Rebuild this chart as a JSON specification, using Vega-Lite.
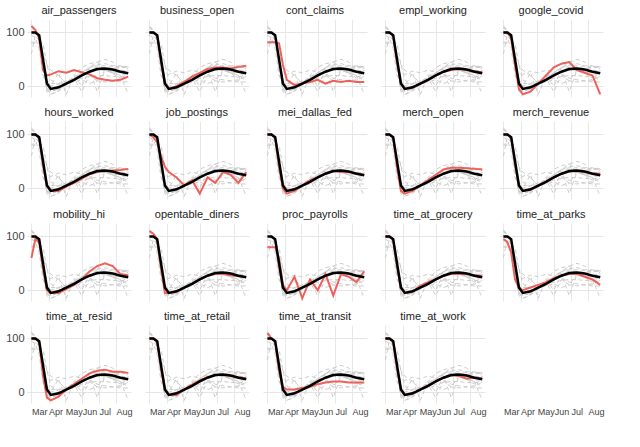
{
"$schema":"https://vega.github.io/schema/vega-lite/v6.json",
"datasets":{"wide":[
{"d":"2020-03-01","avg":100,"air_passengers":112,"business_open":100,"cont_claims":82,"empl_working":100,"google_covid":100,"hours_worked":100,"job_postings":100,"mei_dallas_fed":100,"merch_open":100,"merch_revenue":100,"mobility_hi":60,"opentable_diners":110,"proc_payrolls":80,"time_at_grocery":100,"time_at_parks":95,"time_at_resid":100,"time_at_retail":100,"time_at_transit":110,"time_at_work":100},
{"d":"2020-03-08","avg":100,"air_passengers":105,"business_open":100,"cont_claims":82,"empl_working":100,"google_covid":100,"hours_worked":100,"job_postings":95,"mei_dallas_fed":100,"merch_open":100,"merch_revenue":100,"mobility_hi":95,"opentable_diners":105,"proc_payrolls":80,"time_at_grocery":100,"time_at_parks":90,"time_at_resid":100,"time_at_retail":100,"time_at_transit":100,"time_at_work":100},
{"d":"2020-03-15","avg":95,"air_passengers":90,"business_open":95,"cont_claims":82,"empl_working":95,"google_covid":90,"hours_worked":95,"job_postings":85,"mei_dallas_fed":95,"merch_open":95,"merch_revenue":95,"mobility_hi":90,"opentable_diners":95,"proc_payrolls":80,"time_at_grocery":95,"time_at_parks":70,"time_at_resid":95,"time_at_retail":95,"time_at_transit":95,"time_at_work":95},
{"d":"2020-03-22","avg":50,"air_passengers":30,"business_open":45,"cont_claims":80,"empl_working":45,"google_covid":40,"hours_worked":45,"job_postings":60,"mei_dallas_fed":40,"merch_open":40,"merch_revenue":45,"mobility_hi":40,"opentable_diners":40,"proc_payrolls":60,"time_at_grocery":45,"time_at_parks":20,"time_at_resid":30,"time_at_retail":45,"time_at_transit":40,"time_at_work":45},
{"d":"2020-03-29","avg":5,"air_passengers":20,"business_open":5,"cont_claims":40,"empl_working":5,"google_covid":-5,"hours_worked":5,"job_postings":40,"mei_dallas_fed":0,"merch_open":-5,"merch_revenue":5,"mobility_hi":0,"opentable_diners":-5,"proc_payrolls":10,"time_at_grocery":5,"time_at_parks":5,"time_at_resid":-10,"time_at_retail":5,"time_at_transit":10,"time_at_work":5},
{"d":"2020-04-05","avg":-5,"air_passengers":22,"business_open":-5,"cont_claims":12,"empl_working":-5,"google_covid":-15,"hours_worked":-5,"job_postings":30,"mei_dallas_fed":-10,"merch_open":-10,"merch_revenue":-5,"mobility_hi":-5,"opentable_diners":-5,"proc_payrolls":0,"time_at_grocery":-5,"time_at_parks":0,"time_at_resid":-15,"time_at_retail":-5,"time_at_transit":5,"time_at_work":-5},
{"d":"2020-04-19","avg":-2,"air_passengers":28,"business_open":0,"cont_claims":2,"empl_working":-3,"google_covid":-10,"hours_worked":-5,"job_postings":20,"mei_dallas_fed":-5,"merch_open":-5,"merch_revenue":-3,"mobility_hi":-5,"opentable_diners":-3,"proc_payrolls":25,"time_at_grocery":-3,"time_at_parks":5,"time_at_resid":-8,"time_at_retail":-5,"time_at_transit":5,"time_at_work":-3},
{"d":"2020-05-03","avg":5,"air_passengers":25,"business_open":8,"cont_claims":5,"empl_working":5,"google_covid":5,"hours_worked":3,"job_postings":5,"mei_dallas_fed":5,"merch_open":5,"merch_revenue":5,"mobility_hi":2,"opentable_diners":5,"proc_payrolls":-15,"time_at_grocery":8,"time_at_parks":10,"time_at_resid":5,"time_at_retail":5,"time_at_transit":8,"time_at_work":5},
{"d":"2020-05-17","avg":12,"air_passengers":30,"business_open":18,"cont_claims":8,"empl_working":12,"google_covid":20,"hours_worked":10,"job_postings":15,"mei_dallas_fed":15,"merch_open":15,"merch_revenue":12,"mobility_hi":10,"opentable_diners":12,"proc_payrolls":20,"time_at_grocery":15,"time_at_parks":15,"time_at_resid":15,"time_at_retail":14,"time_at_transit":10,"time_at_work":12},
{"d":"2020-05-31","avg":20,"air_passengers":26,"business_open":25,"cont_claims":12,"empl_working":20,"google_covid":35,"hours_worked":18,"job_postings":-10,"mei_dallas_fed":20,"merch_open":25,"merch_revenue":20,"mobility_hi":20,"opentable_diners":20,"proc_payrolls":0,"time_at_grocery":20,"time_at_parks":22,"time_at_resid":25,"time_at_retail":22,"time_at_transit":15,"time_at_work":20},
{"d":"2020-06-14","avg":27,"air_passengers":22,"business_open":32,"cont_claims":5,"empl_working":27,"google_covid":42,"hours_worked":26,"job_postings":20,"mei_dallas_fed":28,"merch_open":35,"merch_revenue":27,"mobility_hi":35,"opentable_diners":27,"proc_payrolls":30,"time_at_grocery":27,"time_at_parks":28,"time_at_resid":35,"time_at_retail":28,"time_at_transit":18,"time_at_work":27},
{"d":"2020-06-28","avg":32,"air_passengers":15,"business_open":35,"cont_claims":10,"empl_working":30,"google_covid":45,"hours_worked":30,"job_postings":10,"mei_dallas_fed":32,"merch_open":38,"merch_revenue":31,"mobility_hi":45,"opentable_diners":30,"proc_payrolls":-10,"time_at_grocery":30,"time_at_parks":30,"time_at_resid":40,"time_at_retail":32,"time_at_transit":20,"time_at_work":32},
{"d":"2020-07-12","avg":33,"air_passengers":12,"business_open":35,"cont_claims":8,"empl_working":32,"google_covid":30,"hours_worked":32,"job_postings":30,"mei_dallas_fed":30,"merch_open":38,"merch_revenue":32,"mobility_hi":50,"opentable_diners":30,"proc_payrolls":30,"time_at_grocery":30,"time_at_parks":30,"time_at_resid":42,"time_at_retail":32,"time_at_transit":20,"time_at_work":30},
{"d":"2020-07-26","avg":31,"air_passengers":10,"business_open":33,"cont_claims":10,"empl_working":30,"google_covid":25,"hours_worked":33,"job_postings":25,"mei_dallas_fed":30,"merch_open":37,"merch_revenue":30,"mobility_hi":45,"opentable_diners":28,"proc_payrolls":25,"time_at_grocery":30,"time_at_parks":25,"time_at_resid":38,"time_at_retail":30,"time_at_transit":18,"time_at_work":25},
{"d":"2020-08-09","avg":27,"air_passengers":12,"business_open":36,"cont_claims":8,"empl_working":28,"google_covid":20,"hours_worked":34,"job_postings":10,"mei_dallas_fed":28,"merch_open":36,"merch_revenue":28,"mobility_hi":30,"opentable_diners":26,"proc_payrolls":15,"time_at_grocery":28,"time_at_parks":20,"time_at_resid":38,"time_at_retail":28,"time_at_transit":18,"time_at_work":27},
{"d":"2020-08-23","avg":24,"air_passengers":18,"business_open":38,"cont_claims":8,"empl_working":26,"google_covid":-15,"hours_worked":36,"job_postings":30,"mei_dallas_fed":25,"merch_open":35,"merch_revenue":27,"mobility_hi":28,"opentable_diners":24,"proc_payrolls":35,"time_at_grocery":27,"time_at_parks":10,"time_at_resid":36,"time_at_retail":26,"time_at_transit":18,"time_at_work":26}
]},
"data":{"name":"wide"},
"transform":[{"fold":["air_passengers","business_open","cont_claims","empl_working","google_covid","hours_worked","job_postings","mei_dallas_fed","merch_open","merch_revenue","mobility_hi","opentable_diners","proc_payrolls","time_at_grocery","time_at_parks","time_at_resid","time_at_retail","time_at_transit","time_at_work"],"as":["s","v"]}],
"facet":{"field":"s","type":"nominal","title":null,"header":{"labelFontSize":11,"labelFont":"Liberation Sans","labelColor":"#222","labelPadding":3}},
"columns":5,
"spacing":{"column":10,"row":8},
"spec":{
"width":104,"height":78,
"layer":[
{"data":{"name":"wide"},
 "transform":[{"fold":["air_passengers","business_open","cont_claims","empl_working","google_covid","hours_worked","job_postings","mei_dallas_fed","merch_open","merch_revenue","mobility_hi","opentable_diners","proc_payrolls","time_at_grocery","time_at_parks","time_at_resid","time_at_retail","time_at_transit","time_at_work"],"as":["s","v"]}],
 "mark":{"type":"line","strokeDash":[4,3],"color":"#cccccc","strokeWidth":1},
 "encoding":{"x":{"field":"d","type":"temporal","title":null,"scale":{"domain":["2020-02-22","2020-08-28"]},"axis":{"format":"%b","labelExpr":"datum.label","tickCount":{"interval":"month","step":1},"labelOverlap":false,"labelAlign":"left","labelDx":-3,"domain":false,"ticks":false,"labelFontSize":9,"labelColor":"#444","gridColor":"#e8e8e8"}},
  "y":{"field":"v","type":"quantitative","title":null,"scale":{"domain":[-20,125],"nice":false},"axis":{"values":[0,100],"domain":false,"ticks":false,"labelFontSize":11,"labelColor":"#444","gridColor":"#e5e5e5"}},"detail":{"field":"s"}}},
{"mark":{"type":"line","color":"#f0605a","strokeWidth":2},
 "encoding":{"x":{"field":"d","type":"temporal"},"y":{"field":"v","type":"quantitative"}}},
{"data":{"name":"wide"},
 "mark":{"type":"line","color":"black","strokeWidth":2.5},
 "encoding":{"x":{"field":"d","type":"temporal"},"y":{"field":"avg","type":"quantitative"}}}
]},
"config":{"view":{"stroke":null},"font":"Liberation Sans","axis":{"labelOverlap":false,"labelBound":false,"labelFlush":false}}
}
